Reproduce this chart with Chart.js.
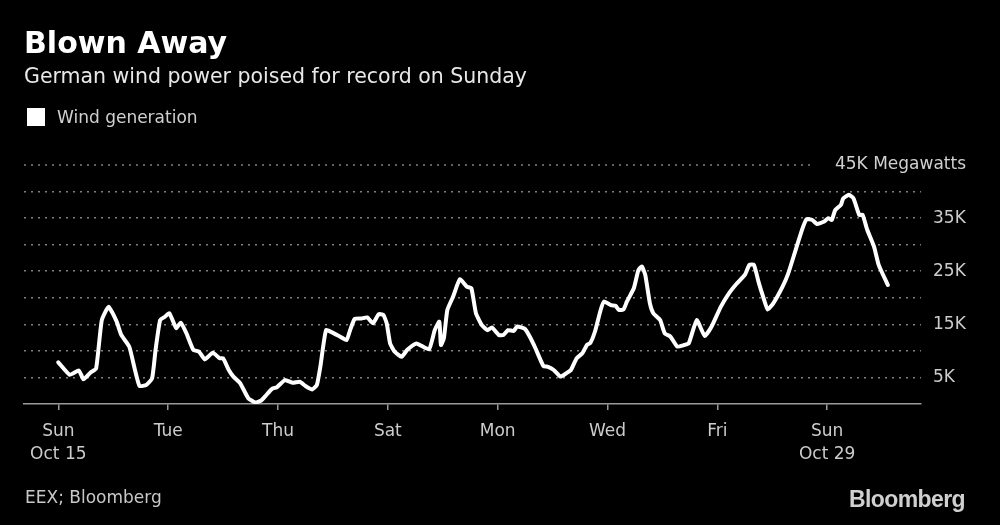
<!DOCTYPE html>
<html>
<head>
<meta charset="utf-8">
<script src="https://cdn.jsdelivr.net/npm/chart.js@4"></script>
<style>
  body { margin: 0; background: #000; }
  #wrap { position: relative; width: 1000px; height: 525px; background: #000; overflow: hidden; }
  #wrap div.txt { position: absolute; white-space: nowrap; font-family: "DejaVu Sans", sans-serif; }
  #title { left: 24px; top: 28px; font-size: 30px; line-height: 30px; font-weight: bold; color: #fff; }
  #subtitle { left: 24px; top: 66px; font-size: 20.5px; line-height: 20.5px; color: #e8e8e8; }
  #legend { left: 57px; top: 109px; font-size: 17px; line-height: 17px; color: #d0d0d0; }
  #legendBox { position: absolute; left: 27px; top: 108px; width: 18px; height: 18px; background: #fff; }
  #source { left: 25px; top: 489px; font-size: 17px; line-height: 17px; color: #c8c8c8; }
  #logo { right: 35px; top: 488px; font-size: 23px; line-height: 23px; font-weight: bold; color: #d0d0d0;
          font-family: "Liberation Sans", sans-serif !important; letter-spacing: -0.6px; }
  canvas { position: absolute; left: 0; top: 0; }
</style>
</head>
<body>
<div id="wrap">
  <canvas id="windChart" width="1000" height="525"></canvas>
  <div class="txt" id="title">Blown Away</div>
  <div class="txt" id="subtitle">German wind power poised for record on Sunday</div>
  <div id="legendBox"></div>
  <div class="txt" id="legend">Wind generation</div>
  <div class="txt" id="source">EEX; Bloomberg</div>
  <div class="txt" id="logo">Bloomberg</div>
</div>
<script>
// heures depuis dim. 15 oct. 00:00
var hours = [0, 5, 9, 11, 14, 16.5, 19, 22, 25.5, 27.5, 31, 33.5, 35.5, 38.5, 41, 42.5, 44.5, 46.5, 48.5, 51.5,
  53.5, 56, 59, 61.5, 64, 67.5, 70.5, 72, 74.5, 76.5, 79.5, 83, 86, 88.5, 90.5, 93.5, 95.5, 99, 102.5, 105.5,
  108, 111, 113, 114.5, 117, 120, 123, 126, 127.5, 129.5, 132.5, 135, 137.5, 140, 142, 143.5, 145, 147, 150, 152.5,
  156.5, 162, 164.5, 166.5, 167.2, 168.5, 170, 172.5, 175.5, 178.5, 180.5, 182.5, 185, 187.5, 189.5, 192.5, 194.5, 196.5, 199, 200.5,
  204, 206, 208.5, 212, 214, 216.5, 219.5, 222, 224, 226.5, 229, 231, 232.5, 234.5, 237, 238.5, 241.5, 243.5, 245, 247,
  248.5, 251.5, 253.5, 255, 256.5, 258.5, 260, 263, 265, 267.5, 270.5, 273.5, 275.5, 279, 282.5, 285.5, 289.5, 293, 296.5, 300,
  302, 304, 306, 308, 310, 312.5, 316.5, 319, 322, 325, 327, 329.5, 331.5, 334.5, 336.5, 338, 339.5, 342, 343, 345.5,
  347.5, 350, 351.5, 353.5, 356.5, 358.5, 362.5]

// MW
var windMW = [7850, 5500, 6300, 4650, 5900, 6650, 15800, 18300, 15500, 13000, 10800, 6400, 3400, 3600, 4850, 10200, 15800, 16400, 17100, 14300,
  15300, 13300, 10200, 9850, 8400, 9650, 8600, 8600, 6400, 5150, 3900, 1100, 300, 600, 1500, 2900, 3150, 4500, 4000, 4200,
  3400, 2750, 3600, 7000, 13900, 13400, 12700, 12050, 13900, 16000, 16100, 16300, 15200, 16900, 16800, 15200, 11400, 9850, 8900, 10200,
  11400, 10300, 13900, 15500, 11100, 12400, 17700, 20200, 23500, 22100, 21800, 17100, 14900, 13900, 14400, 13000, 13000, 13900, 13750, 14600,
  14100, 12700, 10500, 7150, 7000, 6400, 5150, 5800, 6400, 8600, 9550, 11100, 11500, 13600, 17700, 19300, 18600, 18500, 17700, 17800,
  19300, 21800, 25200, 25900, 24300, 19000, 17100, 15800, 13300, 12700, 10800, 11100, 11400, 15800, 12800, 14600, 18300, 20800, 22700, 24300,
  26200, 26200, 23000, 20200, 17800, 19000, 22100, 24600, 28700, 32800, 34800, 34650, 33900, 34300, 35000, 34650, 36500, 37500, 38700, 39400,
  38700, 35600, 35600, 32800, 29600, 26200, 22400]

var tickHours = [0, 48, 96, 144, 192, 240, 288, 336]
var tickDays = ['Sun', 'Tue', 'Thu', 'Sat', 'Mon', 'Wed', 'Fri', 'Sun']
var tickDates = ['Oct 15', '', '', '', '', '', '', 'Oct 29']

var yMax = 45000
var yStep = 5000
var unitLabel = '45K Megawatts'

var points = hours.map((h, i) => ({ x: h, y: windMW[i] }))

// ligne du haut + unité
var topLinePlugin = {
  id: 'topLine',
  afterDraw(chart) {
    var ctx = chart.ctx
    var y = chart.scales.y.getPixelForValue(yMax)
    ctx.save()
    ctx.strokeStyle = '#808080'
    ctx.lineWidth = 1.5
    ctx.setLineDash([2, 5])
    ctx.beginPath()
    ctx.moveTo(chart.chartArea.left, y)
    ctx.lineTo(813, y)
    ctx.stroke()
    ctx.setLineDash([])
    ctx.fillStyle = '#d0d0d0'
    ctx.font = '17px "DejaVu Sans"'
    ctx.textAlign = 'right'
    ctx.textBaseline = 'middle'
    ctx.fillText(unitLabel, 966, y)
    ctx.restore()
  }
}

var windChart = new Chart(document.getElementById('windChart'), {
  type: 'line',
  data: {
    datasets: [
      {
        label: 'Wind generation',
        data: points,
        borderColor: '#ffffff',
        borderWidth: 4,
        borderJoinStyle: 'round',
        borderCapStyle: 'round',
        pointRadius: 0,
        tension: 0.15
      }
    ]
  },
  options: {
    responsive: false,
    animation: false,
    layout: {
      padding: { top: 165, left: 24, right: 0, bottom: 41 }
    },
    plugins: {
      legend: { display: false },
      title: { display: false },
      tooltip: { enabled: false }
    },
    scales: {
      x: {
        type: 'linear',
        min: -15,
        max: 377,
        afterBuildTicks: (scale) => {
          scale.ticks = tickHours.map((v) => ({ value: v }))
        },
        afterFit: (scale) => { scale.height = 80 },
        grid: {
          drawOnChartArea: false,
          drawTicks: true,
          tickLength: 6,
          color: '#9a9a9a',
          lineWidth: 1.5
        },
        border: { display: true, color: '#9a9a9a', width: 1.5 },
        ticks: {
          autoSkip: false,
          maxRotation: 0,
          padding: 10,
          color: '#cccccc',
          font: { family: 'DejaVu Sans', size: 17, lineHeight: 1.35 },
          callback: function(value) {
            var i = tickHours.indexOf(value)
            if (i < 0) return ''
            return tickDates[i] ? [tickDays[i], tickDates[i]] : tickDays[i]
          }
        }
      },
      y: {
        position: 'right',
        min: 0,
        max: yMax,
        afterFit: (scale) => { scale.width = 79 },
        grid: {
          drawTicks: false,
          lineWidth: 1.5,
          color: (c) => (c.tick && (c.tick.value === 0 || c.tick.value === yMax)) ? 'rgba(0,0,0,0)' : '#808080'
        },
        border: { display: false, dash: [2, 5] },
        ticks: {
          stepSize: yStep,
          padding: 12,
          color: '#cccccc',
          font: { family: 'DejaVu Sans', size: 17 },
          callback: function(value) {
            if (value === yMax) return ''
            return (value % 10000 === 5000) ? (value / 1000) + 'K' : ''
          }
        }
      }
    }
  },
  plugins: [topLinePlugin]
});
</script>
</body>
</html>
